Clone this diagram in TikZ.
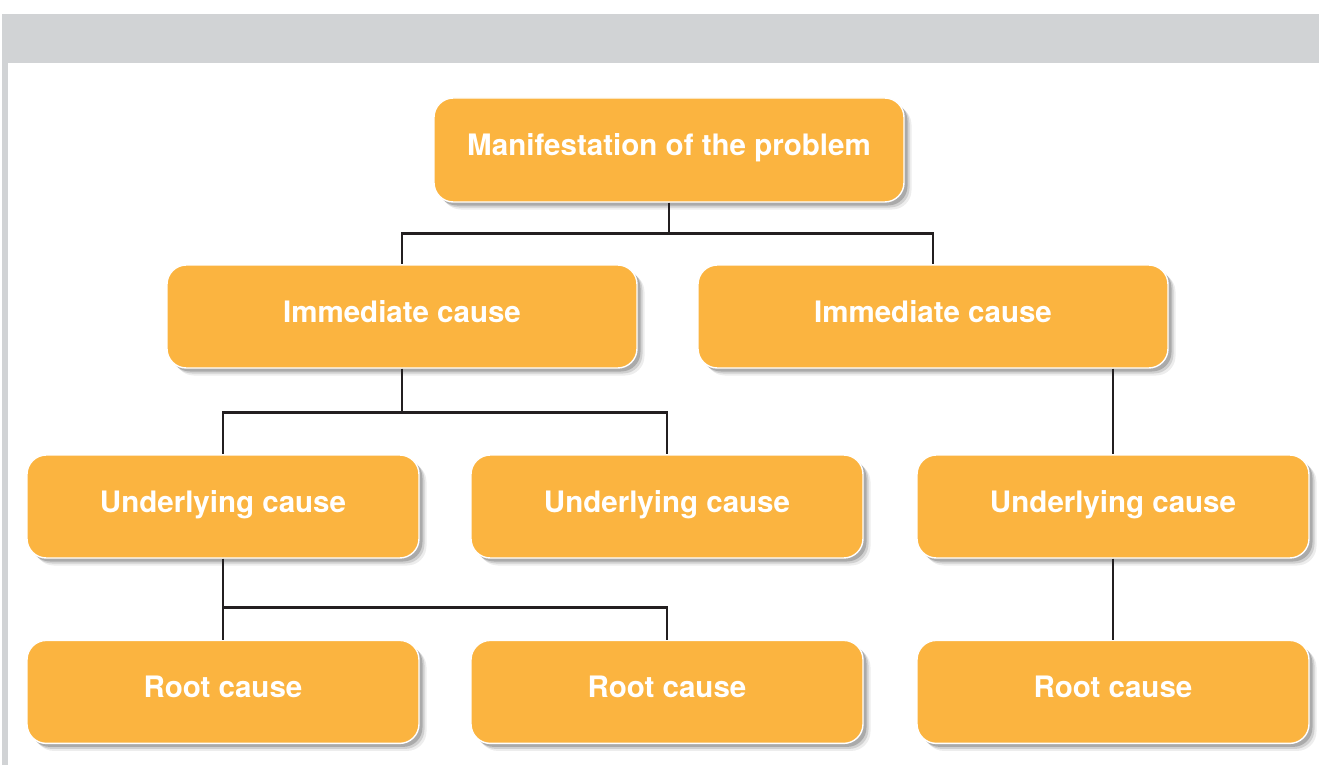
\documentclass[tikz,border=0pt]{standalone}
\usepackage{fontspec}
\setsansfont{TeX Gyre Heros}
\usepackage{tikz}
\usetikzlibrary{positioning, shadows, calc}
\definecolor{causeorange}{HTML}{FBB440}
\definecolor{bandgray}{HTML}{D1D3D5}
\definecolor{linkblack}{HTML}{231F20}

\begin{document}
\begin{tikzpicture}[
  softshadow/.style={
    general shadow={shadow xshift=0.15cm, shadow yshift=-0.15cm, fill=black, opacity=0.07},
    general shadow={shadow xshift=0.11cm, shadow yshift=-0.11cm, fill=black, opacity=0.12},
    general shadow={shadow xshift=0.07cm, shadow yshift=-0.07cm, fill=black, opacity=0.18}},
  cause/.style={rectangle, rounded corners=11pt, draw=white, line width=0.8pt, fill=causeorange,
                softshadow, minimum height=2.06cm, inner sep=0pt, text=white,
                font=\sffamily\bfseries\fontsize{16.8}{20}\selectfont,
                text height=0.42cm, text depth=0.2cm},
  wide/.style={cause, minimum width=9.4cm},
  narrow/.style={cause, minimum width=7.84cm},
  link/.style={line width=1.6pt, linkblack}]
  % frame
  \useasboundingbox (0,0) rectangle (26.38,-15.3);
  \fill[bandgray] (0.04,-0.28) rectangle (26.38,-1.26);
  \fill[bandgray] (0.04,-1.26) rectangle (0.16,-15.3);
  % boxes
  \node[wide, minimum height=2.08cm] (top) at (13.38,-3.00) {Manifestation of the problem};
  \node[wide] (imml) at (8.04,-6.33) {Immediate cause};
  \node[wide] (immr) at (18.66,-6.33) {Immediate cause};
  \node[narrow] (undl) at (4.46,-10.13) {Underlying cause};
  \node[narrow] (undm) at (13.34,-10.13) {Underlying cause};
  \node[narrow] (undr) at (22.26,-10.13) {Underlying cause};
  \node[narrow, below=1.62cm of undl] (rootl) {Root cause};
  \node[narrow, below=1.62cm of undm] (rootm) {Root cause};
  \node[narrow, below=1.62cm of undr] (rootr) {Root cause};
  % connectors
  \draw[link] (top.south) -- ++(0,-0.62) coordinate (j1) -| (imml.north);
  \draw[link] (j1) -| (immr.north);
  \draw[link] (imml.south) -- ++(0,-0.88) coordinate (j2) -| (undl.north);
  \draw[link] (j2) -| (undm.north);
  \draw[link] (immr.south -| undr.north) -- (undr.north);
  \draw[link] (undl.south) -- ++(0,-0.98) coordinate (j3) -- (rootl.north);
  \draw[link] (j3) -| (rootm.north);
  \draw[link] (undr.south) -- (rootr.north);
\end{tikzpicture}
\end{document}
